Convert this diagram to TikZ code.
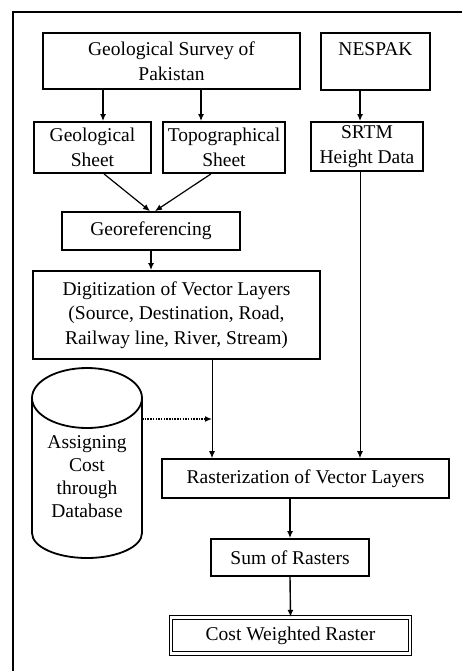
\documentclass[tikz,border=0pt]{standalone}
\usepackage{fontspec}
\setmainfont{Liberation Serif}
\usetikzlibrary{arrows.meta}

\begin{document}
\begin{tikzpicture}[x=1pt,y=-1pt,
  box/.style={draw, line width=1.8pt, align=center, inner sep=0pt, font=\fontsize{19.5}{24.5}\selectfont},
  arr/.style={-{Latex[length=7pt,width=6pt]}, line width=1.4pt},
  lin/.style={-{Latex[length=7pt,width=6pt]}, line width=0.9pt},
  dot/.style={-{Latex[length=7pt,width=6pt]}, line width=1.5pt, dash pattern=on 1.5pt off 1.2pt}]
\useasboundingbox (0,0) rectangle (462,671);
\clip (0,0) rectangle (462,671);
\draw[line width=2pt] (12.5,690) -- (12.5,12.5) -- (480,12.5);

% sources
\node[box, minimum width=257pt, minimum height=56pt] (gs) at (171.5,61) {Geological Survey of\\Pakistan};
\node[box, minimum width=109pt, minimum height=57pt] (nes) at (375.5,61.5) {NESPAK\\\mbox{}};

% sheets
\node[box, minimum width=117pt, minimum height=51pt] (geo) at (92.5,147.5) {Geological\\Sheet};
\node[box, minimum width=122pt, minimum height=51pt] (topo) at (224,147.5) {Topographical\\Sheet};
\node[box, minimum width=112pt, minimum height=49pt] (srtm) at (367,146.5) {SRTM\\Height Data};

\node[box, minimum width=178pt, minimum height=38pt] (georef) at (151,231) {Georeferencing};
\node[box, minimum width=287pt, minimum height=88pt] (dig) at (176.5,315) {Digitization of Vector Layers\\(Source, Destination, Road,\\Railway line, River, Stream)};

% database
\draw[line width=1.8pt] (87,398) ellipse [x radius=55, y radius=30];
\draw[line width=1.8pt] (32,398) -- (32,533) arc[start angle=180, end angle=0, x radius=55, y radius=25] -- (142,398);
\node[align=center, inner sep=0pt, font=\fontsize{19.5}{23}\selectfont] (db) at (87,477) {Assigning\\Cost\\through\\Database};
\coordinate (dbr) at (142,419);

\node[box, minimum width=287pt, minimum height=39pt] (ras) at (305.5,478.5) {Rasterization of Vector Layers};
\node[box, minimum width=158pt, minimum height=37pt] (sum) at (290,557.5) {Sum of Rasters};
\node[box, line width=1.3pt, double, double distance=2.2pt, minimum width=239pt, minimum height=36pt] (cwr) at (290.5,635.5) {Cost Weighted Raster};

% connectors
\coordinate (g1) at ([xshift=10.5pt]geo.north);
\coordinate (t1) at ([xshift=-23pt]topo.north);
\coordinate (s1) at ([xshift=-7pt]srtm.south);
\coordinate (d1) at ([xshift=35.5pt]dig.south);
\draw[arr] (g1 |- gs.south) -- (g1);
\draw[arr] (t1 |- gs.south) -- (t1);
\draw[arr] (s1 |- nes.south) -- (s1 |- srtm.north);
\draw[arr, line width=1.2pt] ([xshift=11.5pt]geo.south) -- ([xshift=-1pt]georef.north);
\draw[arr, line width=1.2pt] ([xshift=-13pt]topo.south) -- ([xshift=4pt]georef.north);
\draw[arr] (georef.south) -- (georef.south |- dig.north);
\draw[lin] (d1) -- (d1 |- ras.north);
\draw[lin] (s1) -- (s1 |- ras.north);
\draw[dot] (dbr) -- (dbr -| d1);
\draw[arr] (sum.north |- ras.south) -- (sum.north);
\draw[arr] (sum.south) -- (cwr.north);
\end{tikzpicture}
\end{document}
